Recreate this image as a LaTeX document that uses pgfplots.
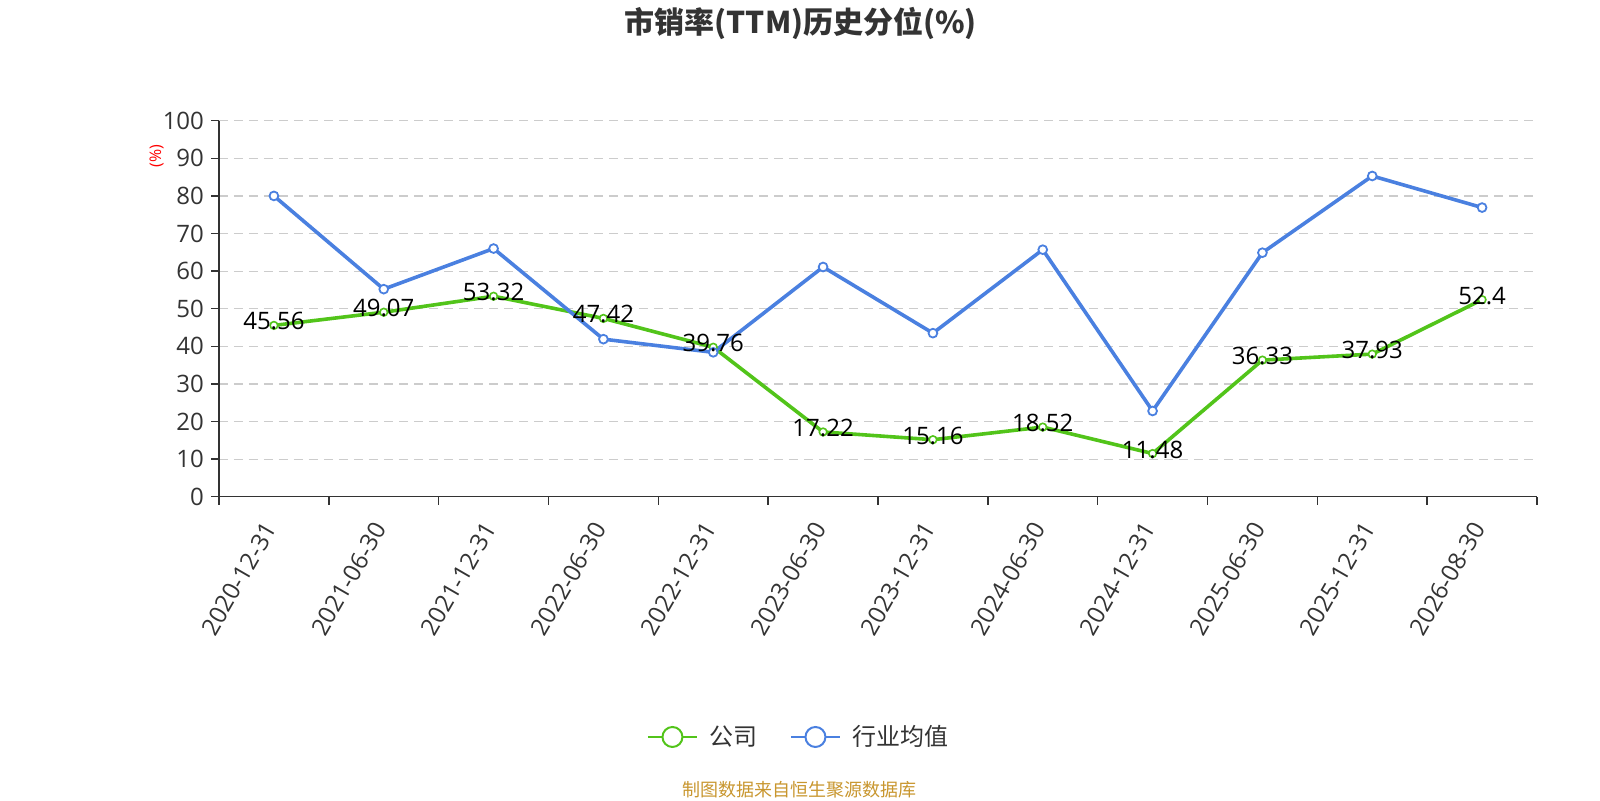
\documentclass[border=0pt]{standalone}
\usepackage{fontspec}
\setmainfont{Open Sans}
\newfontfamily\cjk{Noto Sans CJK SC}
\usepackage{pgfplots}
\pgfplotsset{compat=1.18}
\definecolor{cgreen}{HTML}{52C41A}
\definecolor{cblue}{HTML}{4A80E0}
\definecolor{ctext}{HTML}{333333}
\definecolor{cgrid}{HTML}{CCCCCC}
\definecolor{cfoot}{HTML}{C8962E}
\begin{document}
\begin{tikzpicture}[x=1pt,y=1pt]
\useasboundingbox (-109.5,-151.65) rectangle (690.5,248.35);
\begin{axis}[
  at={(0,0)}, anchor=south west,
  scale only axis, width=659pt, height=188pt,
  xmin=-0.5, xmax=11.5, ymin=0, ymax=100,
  axis x line=bottom, axis y line=left,
  axis line style={-, draw=ctext, line width=0.75pt},
  xtick={0,...,11},
  xticklabels={2020-12-31,2021-06-30,2021-12-31,2022-06-30,2022-12-31,2023-06-30,2023-12-31,2024-06-30,2024-12-31,2025-06-30,2025-12-31,2026-08-30},
  minor xtick={-0.5,0.5,...,11.5},
  ytick={0,10,...,100},
  tick align=outside,
  major tick length=4pt, minor tick length=4pt,
  major x tick style={draw=none},
  minor x tick style={draw=ctext, line width=0.75pt},
  major y tick style={draw=ctext, line width=0.75pt},
  ymajorgrids,
  major grid style={cgrid, line width=0.6pt, dash pattern=on 4.5pt off 3pt},
  /pgf/number format/assume math mode=true,
  ticklabel style={font=\fontsize{12}{14}\selectfont, text=ctext},
  xticklabel style={yshift=-7pt, rotate=60, anchor=east},
  clip=false,
  legend style={at={(0.4408,-0.639)}, anchor=center, draw=none, fill=none,
    font=\cjk\fontsize{12}{14}\selectfont, text=ctext,
    /tikz/every odd column/.append style={column sep=4pt},
    /tikz/every even column/.append style={column sep=14pt}},
  legend columns=2,
]
\addplot[cgreen, line width=1.8pt, mark=*, mark size=1.9pt,
  mark options={fill=white, draw=cgreen, line width=0.8pt},
  legend image code/.code={
    \draw[cgreen, line width=1pt] (0pt,0pt) -- (24.5pt,0pt);
    \draw[cgreen, line width=1pt, fill=white] (12.25pt,0pt) circle (5pt);}]
coordinates {(0,45.56) (1,49.07) (2,53.32) (3,47.42) (4,39.76) (5,17.22) (6,15.16) (7,18.52) (8,11.48) (9,36.33) (10,37.93) (11,52.4)};
\addlegendentry{公司}
\addplot[cblue, line width=1.8pt, mark=*, mark size=2.2pt,
  mark options={fill=white, draw=cblue, line width=0.9pt},
  legend image code/.code={
    \draw[cblue, line width=1pt] (0pt,0pt) -- (24.5pt,0pt);
    \draw[cblue, line width=1pt, fill=white] (12.25pt,0pt) circle (5pt);}]
coordinates {(0,80.0) (1,55.2) (2,66.0) (3,41.9) (4,38.4) (5,61.1) (6,43.5) (7,65.7) (8,22.8) (9,64.9) (10,85.3) (11,76.9)};
\addlegendentry{行业均值}
\addplot[draw=none, no markers, forget plot, nodes near coords, point meta=explicit symbolic,
  every node near coord/.append style={anchor=center, yshift=2pt, font=\fontsize{12}{14}\selectfont, text=black}]
coordinates {(0,45.56)[45.56] (1,49.07)[49.07] (2,53.32)[53.32] (3,47.42)[47.42] (4,39.76)[39.76] (5,17.22)[17.22] (6,15.16)[15.16] (7,18.52)[18.52] (8,11.48)[11.48] (9,36.33)[36.33] (10,37.93)[37.93] (11,52.4)[52.4]};
\end{axis}
\node[font=\cjk\bfseries\fontsize{15}{17}\selectfont, text=ctext] at (290.9,236.7) {市销率(TTM)历史分位(\%)};
\node[font=\cjk\fontsize{9}{11}\selectfont, text=cfoot] at (290,-146.65) {制图数据来自恒生聚源数据库};
\node[font=\fontsize{8}{10}\selectfont, text=red, rotate=90] at (-31.15,170.35) {(\%)};
\end{tikzpicture}
\end{document}
